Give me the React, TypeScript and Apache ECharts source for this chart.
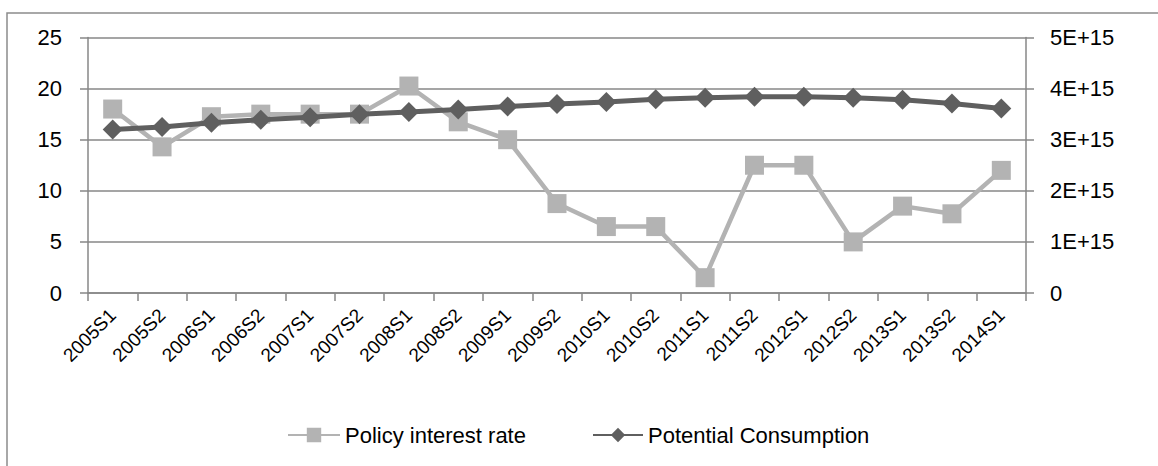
import React, { useEffect, useRef } from "react";
import * as echarts from "echarts";

const categories = [
  "2005S1", "2005S2", "2006S1", "2006S2", "2007S1", "2007S2", "2008S1", "2008S2",
  "2009S1", "2009S2", "2010S1", "2010S2", "2011S1", "2011S2", "2012S1", "2012S2",
  "2013S1", "2013S2", "2014S1",
];
const policyRate = [
  18, 14.3, 17.25, 17.5, 17.5, 17.5, 20.25, 16.75, 15, 8.75, 6.5, 6.5, 1.5, 12.5,
  12.5, 5, 8.5, 7.75, 12,
];
const potentialConsumption = [
  3.2e15, 3.25e15, 3.33e15, 3.39e15, 3.44e15, 3.5e15, 3.54e15, 3.59e15, 3.65e15,
  3.7e15, 3.74e15, 3.79e15, 3.82e15, 3.84e15, 3.84e15, 3.82e15, 3.78e15, 3.71e15,
  3.61e15,
];
const leftTicks = { min: 0, max: 25, interval: 5 };
const rightTicks = { min: 0, max: 5e15, interval: 1e15 };

const FONT = "'Liberation Sans', Arial, sans-serif";
const GRID = "#878787";

export default function App() {
  const ref = useRef<HTMLDivElement>(null);
  useEffect(() => {
    if (!ref.current) return;
    const chart = echarts.init(ref.current, undefined, { renderer: "svg" });
    chart.setOption({
      animation: false,
      backgroundColor: "#ffffff",
      textStyle: { fontFamily: FONT },
      graphic: [
        {
          type: "rect",
          shape: { x: 7, y: 13, width: 1300, height: 600 },
          style: { fill: "none", stroke: "#8c8c8c", lineWidth: 1.5 },
          silent: true,
        },
      ],
      grid: { left: 88, right: 132, top: 37.5, bottom: 173, containLabel: false },
      legend: [
        {
          data: ["Policy interest rate"],
          left: 287,
          top: 424,
          padding: 0,
          itemWidth: 52,
          itemHeight: 18,
          itemGap: 8,
          textStyle: { fontSize: 22, color: "#000", fontFamily: FONT },
        },
        {
          data: ["Potential Consumption"],
          left: 592,
          top: 424,
          padding: 0,
          itemWidth: 50,
          itemHeight: 18,
          textStyle: { fontSize: 22, color: "#000", fontFamily: FONT },
        },
      ],
      xAxis: {
        type: "category",
        data: categories,
        boundaryGap: true,
        axisLine: { lineStyle: { color: GRID, width: 1.5 } },
        axisTick: { show: true, length: 8, lineStyle: { color: GRID, width: 1.5 } },
        axisLabel: {
          rotate: 45,
          margin: 19,
          interval: 0,
          fontSize: 19,
          color: "#000",
          fontFamily: FONT,
        },
      },
      yAxis: [
        {
          type: "value",
          min: leftTicks.min,
          max: leftTicks.max,
          interval: leftTicks.interval,
          axisLine: { show: true, lineStyle: { color: GRID, width: 1.5 } },
          axisTick: { show: true, length: 8, lineStyle: { color: GRID, width: 1.5 } },
          splitLine: { show: true, lineStyle: { color: GRID, width: 1.5 } },
          axisLabel: { fontSize: 22, color: "#000", margin: 26, fontFamily: FONT },
        },
        {
          type: "value",
          min: rightTicks.min,
          max: rightTicks.max,
          interval: rightTicks.interval,
          position: "right",
          axisLine: { show: true, lineStyle: { color: GRID, width: 1.5 } },
          axisTick: { show: true, length: 8, lineStyle: { color: GRID, width: 1.5 } },
          splitLine: { show: false },
          axisLabel: {
            fontSize: 22,
            color: "#000",
            margin: 24,
            fontFamily: FONT,
            formatter: (v: number) => (v === 0 ? "0" : `${Math.round(v / 1e15)}E+15`),
          },
        },
      ],
      series: [
        {
          name: "Policy interest rate",
          type: "line",
          yAxisIndex: 0,
          data: policyRate,
          symbol: "rect",
          symbolSize: 19,
          lineStyle: { color: "#b3b3b3", width: 4.5 },
          itemStyle: { color: "#b3b3b3" },
          z: 2,
        },
        {
          name: "Potential Consumption",
          type: "line",
          yAxisIndex: 1,
          data: potentialConsumption,
          symbol: "diamond",
          symbolSize: 20,
          lineStyle: { color: "#5f5f5f", width: 5 },
          itemStyle: { color: "#5f5f5f" },
          z: 3,
        },
      ],
    });
    return () => chart.dispose();
  }, []);
  return (
    <div
      ref={ref}
      style={{ position: "fixed", left: 0, top: 0, width: 1158, height: 466 }}
    />
  );
}
